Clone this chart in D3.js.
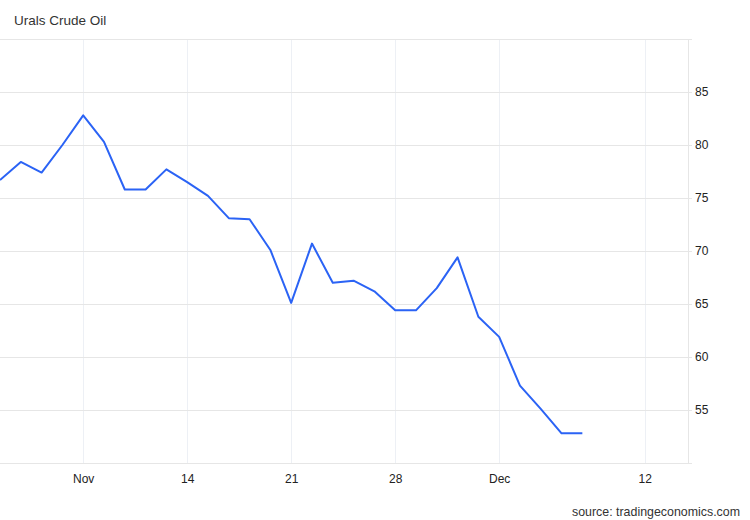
<!DOCTYPE html>
<html>
<head>
<meta charset="utf-8">
<script src="https://cdn.jsdelivr.net/npm/d3@7"></script>
<style>
  body { margin: 0; background: #fff; }
  svg { display: block; font-family: "Liberation Sans", Arial, sans-serif; }
  .grid line { stroke: #e6e6e6; shape-rendering: crispEdges; }
  .vgrid line { stroke: #edf0f5; shape-rendering: crispEdges; }
</style>
</head>
<body>
<div id="chart"></div>
<script>
// trading-day prices (index = trading day)
var prices = [76.7, 78.4, 77.4, 80.0, 82.8, 80.3, 75.8, 75.8, 77.7, 76.5,
              75.2, 73.1, 73.0, 70.1, 65.1, 70.7, 67.0, 67.2, 66.2, 64.4,
              64.4, 66.5, 69.4, 63.8, 61.9, 57.3, 55.1, 52.8, 52.8];
var xTickIdx = [4, 9, 14, 19, 24, 31];
var xTickLabels = ["Nov", "14", "21", "28", "Dec", "12"];
var yTicks = [55, 60, 65, 70, 75, 80, 85];

var W = 750, H = 520;
var margin = {top: 39, right: 62, bottom: 57, left: 0};
var width = W - margin.left - margin.right,
    height = H - margin.top - margin.bottom;

var svg = d3.select("#chart").append("svg")
    .attr("width", W)
    .attr("height", H);

var g = svg.append("g")
    .attr("transform", "translate(" + margin.left + "," + margin.top + ")");

var x = d3.scaleLinear().domain([0, 33.08]).range([0, width]);
var y = d3.scaleLinear().domain([50, 90]).range([height, 0]);

// vertical grid
g.append("g").attr("class", "vgrid")
  .selectAll("line")
  .data(xTickIdx)
  .enter().append("line")
    .attr("x1", function(d) { return Math.round(x(d)) + 0.5; })
    .attr("x2", function(d) { return Math.round(x(d)) + 0.5; })
    .attr("y1", 0)
    .attr("y2", height);

// horizontal grid (plus top edge)
g.append("g").attr("class", "grid")
  .selectAll("line")
  .data(yTicks.concat([90]))
  .enter().append("line")
    .attr("x1", 0)
    .attr("x2", width + 4)
    .attr("y1", function(d) { return Math.round(y(d)) + 0.5; })
    .attr("y2", function(d) { return Math.round(y(d)) + 0.5; });

// right axis line and bottom axis line
g.append("line")
  .attr("x1", width + 0.5).attr("x2", width + 0.5)
  .attr("y1", 0).attr("y2", height)
  .attr("stroke", "#e6e6e6");
g.append("line")
  .attr("x1", 0).attr("x2", width + 4)
  .attr("y1", height + 0.5).attr("y2", height + 0.5)
  .attr("stroke", "#e6e6e6");

// y axis labels
var yAxis = d3.axisRight(y).tickValues(yTicks).tickSize(0).tickPadding(7);
var ya = g.append("g")
  .attr("transform", "translate(" + width + ",0)")
  .call(yAxis);
ya.select(".domain").remove();
ya.selectAll("text").attr("font-size", "12px").attr("fill", "#222")
  .attr("font-family", "Liberation Sans, Arial, sans-serif");

// x axis labels
var xAxis = d3.axisBottom(x).tickValues(xTickIdx)
  .tickFormat(function(d, i) { return xTickLabels[i]; })
  .tickSize(0).tickPadding(11);
var xa = g.append("g")
  .attr("transform", "translate(0," + height + ")")
  .call(xAxis);
xa.select(".domain").remove();
xa.selectAll("text").attr("font-size", "12px").attr("fill", "#222")
  .attr("font-family", "Liberation Sans, Arial, sans-serif");

// price line
var line = d3.line()
  .x(function(d, i) { return x(i); })
  .y(function(d) { return y(d); });

g.append("path")
  .datum(prices)
  .attr("fill", "none")
  .attr("stroke", "#2b63f5")
  .attr("stroke-width", 2)
  .attr("stroke-linejoin", "round")
  .attr("d", line);

// title and source
svg.append("text")
  .attr("x", 14).attr("y", 25)
  .attr("font-size", "13.5px")
  .attr("fill", "#333")
  .text("Urals Crude Oil");

svg.append("text")
  .attr("x", 740).attr("y", 516)
  .attr("text-anchor", "end")
  .attr("font-size", "12.4px")
  .attr("fill", "#333")
  .text("source: tradingeconomics.com");
</script>
</body>
</html>
